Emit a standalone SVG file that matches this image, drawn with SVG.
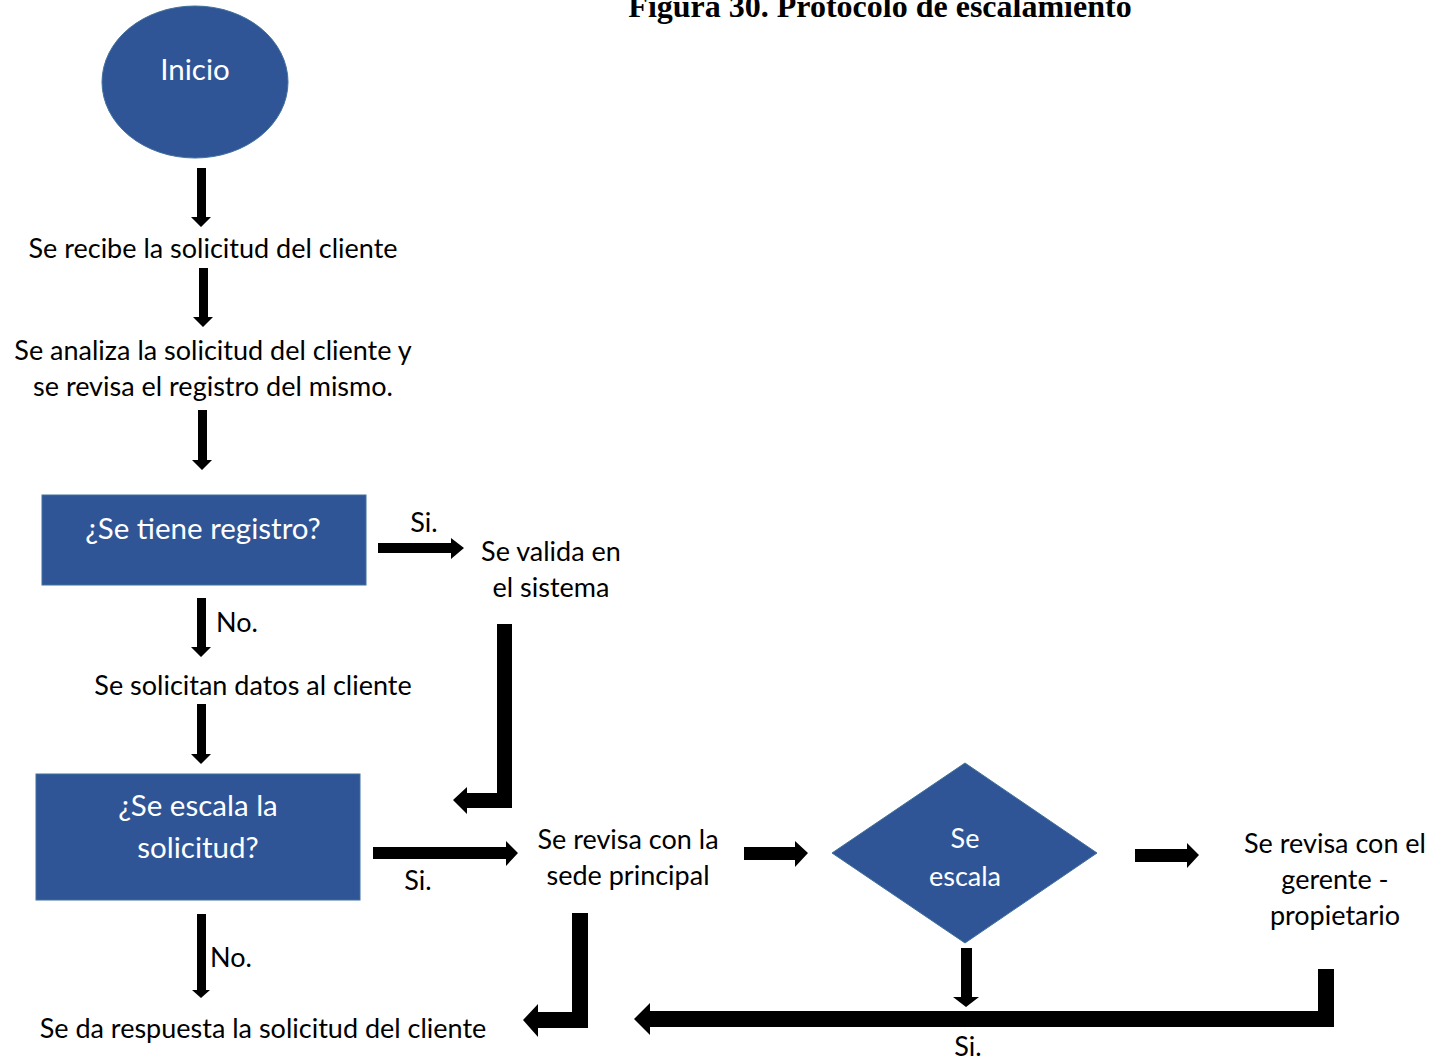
<svg xmlns="http://www.w3.org/2000/svg" width="1431" height="1061" viewBox="0 0 1431 1061">
<style>
.t{font-family:Lato,"Open Sans","Liberation Sans",sans-serif;font-size:27px;fill:#000;text-anchor:middle}
.w{fill:#fff}
.big{font-size:29.5px}
.shape{fill:#2F5597;stroke:#41719C;stroke-width:1}
.arr{fill:#000}
.title{font-family:"Liberation Serif",serif;font-weight:bold;font-size:32px;text-anchor:middle}
</style>
<rect width="1431" height="1061" fill="#fff"/>
<text class="title" x="880" y="17">Figura 30. Protocolo de escalamiento</text>

<g id="inicio">
<ellipse class="shape" cx="195" cy="82" rx="93" ry="76"/>
<text class="t w big" x="195" y="80">Inicio</text>
</g>
<g id="recibe"><text class="t" x="213" y="258">Se recibe la solicitud del cliente</text></g>
<g id="analiza">
<text class="t" x="213" y="360">Se analiza la solicitud del cliente y</text>
<text class="t" x="213" y="396">se revisa el registro del mismo.</text>
</g>
<g id="registro">
<rect class="shape" x="42" y="495" width="324" height="90" stroke="none"/>
<text class="t w big" x="203" y="539">¿Se tiene registro?</text>
</g>
<g id="valida">
<text class="t" x="551" y="561">Se valida en</text>
<text class="t" x="551" y="597">el sistema</text>
</g>
<g id="solicitan"><text class="t" x="253" y="695">Se solicitan datos al cliente</text></g>
<g id="escala-solicitud">
<rect class="shape" x="36" y="774" width="324" height="126" stroke="none"/>
<text class="t w big" x="198" y="816">¿Se escala la</text>
<text class="t w big" x="198" y="858">solicitud?</text>
</g>
<g id="sede">
<text class="t" x="628" y="849">Se revisa con la</text>
<text class="t" x="628" y="885">sede principal</text>
</g>
<g id="se-escala">
<polygon class="shape" points="965,763 1097,853 965,943 832,853"/>
<text class="t w" x="965" y="848">Se</text>
<text class="t w" x="965" y="886">escala</text>
</g>
<g id="gerente">
<text class="t" x="1335" y="853">Se revisa con el</text>
<text class="t" x="1335" y="889">gerente -</text>
<text class="t" x="1335" y="925">propietario</text>
</g>
<g id="respuesta"><text class="t" x="263" y="1038">Se da respuesta la solicitud del cliente</text></g>

<g id="connectors">
<polygon class="arr" points="197,168 206,168 206,217 211,217 201,227 191,217 197,217"/>
<polygon class="arr" points="199,268 208,268 208,317 213,317 203,327 193,317 199,317"/>
<polygon class="arr" points="198,410 207,410 207,460 212,460 202,470 192,460 198,460"/>
<polygon class="arr" points="378,543 451,543 451,538 464,548 451,559 451,553 378,553"/>
<text class="t" x="424" y="532">Si.</text>
<polygon class="arr" points="497,624 512,624 512,808 467,808 467,814 453,800 467,787 467,793 497,793"/>
<polygon class="arr" points="197,598 206,598 206,647 211,647 201,657 191,647 197,647"/>
<text class="t" x="237" y="632">No.</text>
<polygon class="arr" points="197,704 206,704 206,754 211,754 201,764 191,754 197,754"/>
<polygon class="arr" points="373,847 506,847 506,841 518,853 506,866 506,859 373,859"/>
<text class="t" x="418" y="890">Si.</text>
<polygon class="arr" points="744,847 795,847 795,841 808,853 795,867 795,860 744,860"/>
<polygon class="arr" points="1135,849 1187,849 1187,843 1199,855 1187,868 1187,862 1135,862"/>
<polygon class="arr" points="961,948 972,948 972,997 979,997 966,1007 953,997 961,997"/>
<polygon class="arr" points="1318,969 1334,969 1334,1027 650,1027 650,1035 634,1019 650,1003 650,1011 1318,1011"/>
<text class="t" x="968" y="1056">Si.</text>
<polygon class="arr" points="572,913 588,913 588,1028 538,1028 538,1037 523,1020 538,1004 538,1012 572,1012"/>
<polygon class="arr" points="197,914 206,914 206,990 210,990 201,998 192,990 197,990"/>
<text class="t" x="231" y="967">No.</text>
</g>
</svg>
